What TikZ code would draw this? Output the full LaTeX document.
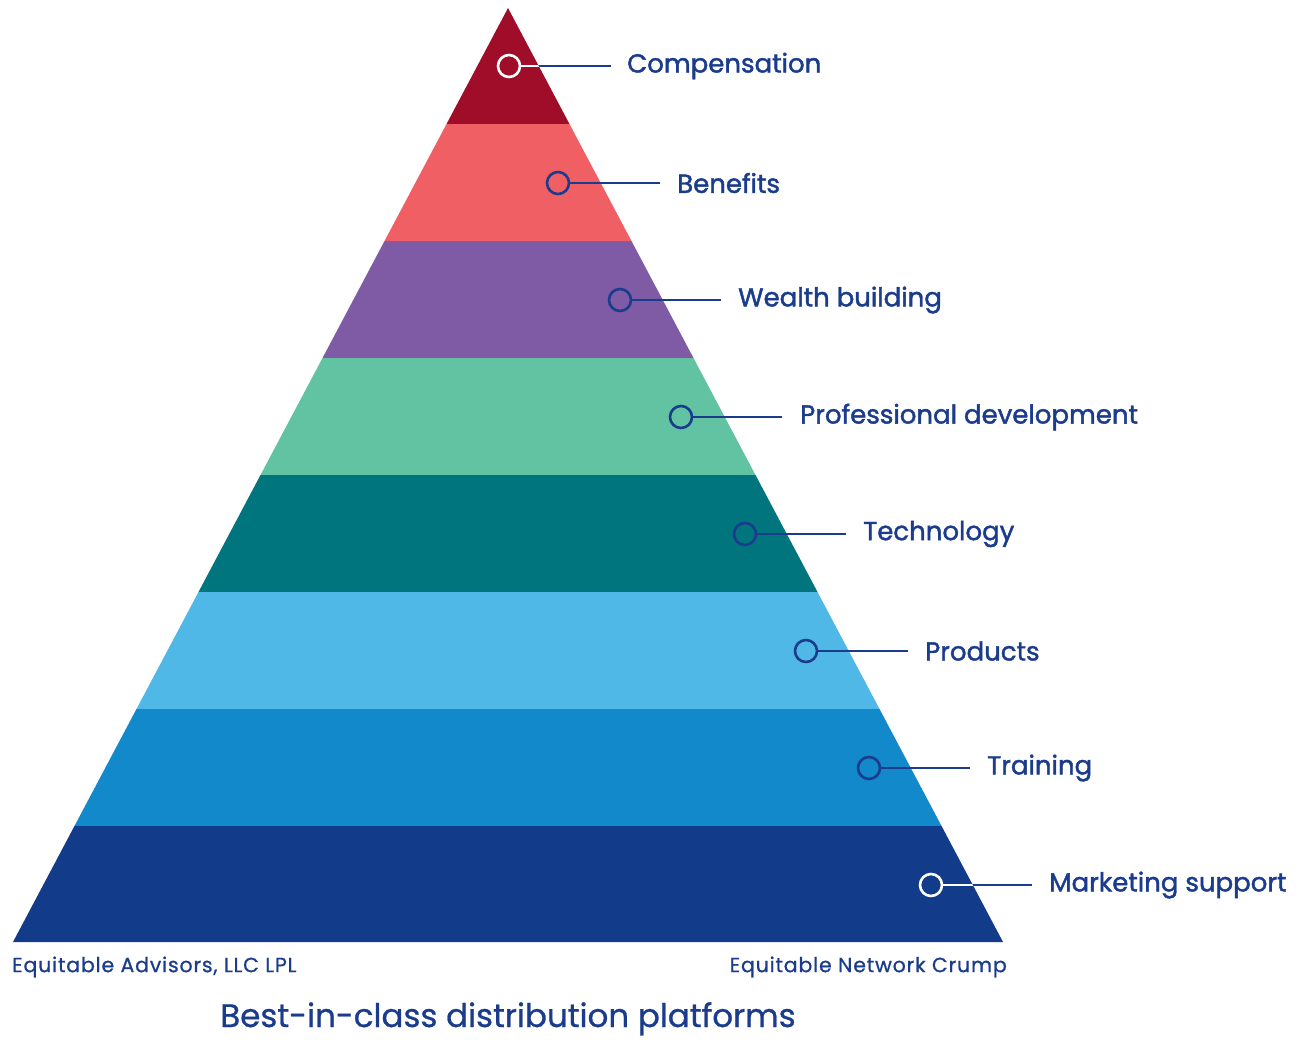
\documentclass[tikz,border=0pt]{standalone}
\usepackage{fontspec}
\setmainfont{Poppins}
\newfontfamily\medfont{Poppins}[FakeBold=1.6]
\newfontfamily\smfont{Poppins}[FakeBold=0.8]
\newfontfamily\smwfont{Poppins}[FakeBold=0.8,LetterSpace=4]
\definecolor{txtblue}{HTML}{1B3C8C}
\definecolor{cA}{HTML}{A00D28}
\definecolor{cB}{HTML}{F05F63}
\definecolor{cC}{HTML}{7F5BA6}
\definecolor{cD}{HTML}{62C3A2}
\definecolor{cE}{HTML}{00757E}
\definecolor{cF}{HTML}{4FB8E7}
\definecolor{cG}{HTML}{1289CB}
\definecolor{cH}{HTML}{123B8A}
\tikzset{
  lbl/.style={anchor=west, inner sep=0pt, text=txtblue, font=\medfont\fontsize{26}{28}\selectfont},
  dotblue/.style={circle, draw=txtblue, line width=2.6pt, minimum size=22pt, inner sep=0pt},
  dotwhite/.style={circle, draw=white, line width=2.6pt, minimum size=22pt, inner sep=0pt},
  conn/.style={draw=txtblue, line width=2.6pt},
  connw/.style={draw=white, line width=2.6pt},
  small/.style={inner sep=0pt, text=txtblue, font=\smwfont\fontsize{20.5}{22}\selectfont},
}
\begin{document}
\begin{tikzpicture}[x=1pt,y=-1pt]
\useasboundingbox (0,0) rectangle (1309,1039);
% bands
\foreach \ya/\yb/\col in {8/124/cA,124/241/cB,241/358/cC,358/475/cD,475/592/cE,592/709/cF,709/826/cG,826/942/cH}{
  \fill[\col] ({508-(\ya-8)*0.53}, \ya) -- ({508+(\ya-8)*0.53}, \ya) -- ({508+(\yb-8)*0.53}, \yb) -- ({508-(\yb-8)*0.53}, \yb) -- cycle;
}
% circles and labels
\node[dotwhite] (d1) at (509,66) {};
\node[dotblue]  (d2) at (558,183) {};
\node[dotblue]  (d3) at (620,300) {};
\node[dotblue]  (d4) at (681,417) {};
\node[dotblue]  (d5) at (745,534) {};
\node[dotblue]  (d6) at (806,651) {};
\node[dotblue]  (d7) at (869,768) {};
\node[dotwhite] (d8) at (931,885) {};
\coordinate (e1) at (611,66);
\coordinate (e2) at (660,183);
\coordinate (e3) at (721,300);
\coordinate (e4) at (782,417);
\coordinate (e5) at (846,534);
\coordinate (e6) at (908,651);
\coordinate (e7) at (970,768);
\coordinate (e8) at (1032,885);
\node[lbl] (t1) at (627,66) {Compensation};
\node[lbl] (t2) at (677,183) {Benefits};
\node[lbl] (t3) at (738,300) {Wealth building};
\node[lbl] (t4) at (800,417) {Professional development};
\node[lbl] (t5) at (863,534) {Technology};
\node[lbl] (t6) at (925,651) {Products};
\node[lbl] (t7) at (987,768) {Training};
\node[lbl] (t8) at (1049,885) {Marketing support};
\foreach \i in {2,...,7}{\draw[conn] (d\i.east) -- (e\i);}
\draw[conn] (d1.east) -- (e1);
\draw[conn] (d8.east) -- (e8);
\begin{scope}
  \clip (508,8) -- (1003,942) -- (12,942) -- cycle;
  \draw[connw] (d1.east) -- (e1);
  \draw[connw] (d8.east) -- (e8);
\end{scope}
\node[small, anchor=west] (l1) at (12,967) {Equitable Advisors, LLC LPL};
\node[small, anchor=east] (l2) at (1007,967) {Equitable Network Crump};
\node[inner sep=0pt, anchor=base, text=txtblue, font=\smfont\fontsize{32.5}{36}\selectfont] (title) at (508,1027) {Best-in-class distribution platforms};
\end{tikzpicture}
\end{document}
